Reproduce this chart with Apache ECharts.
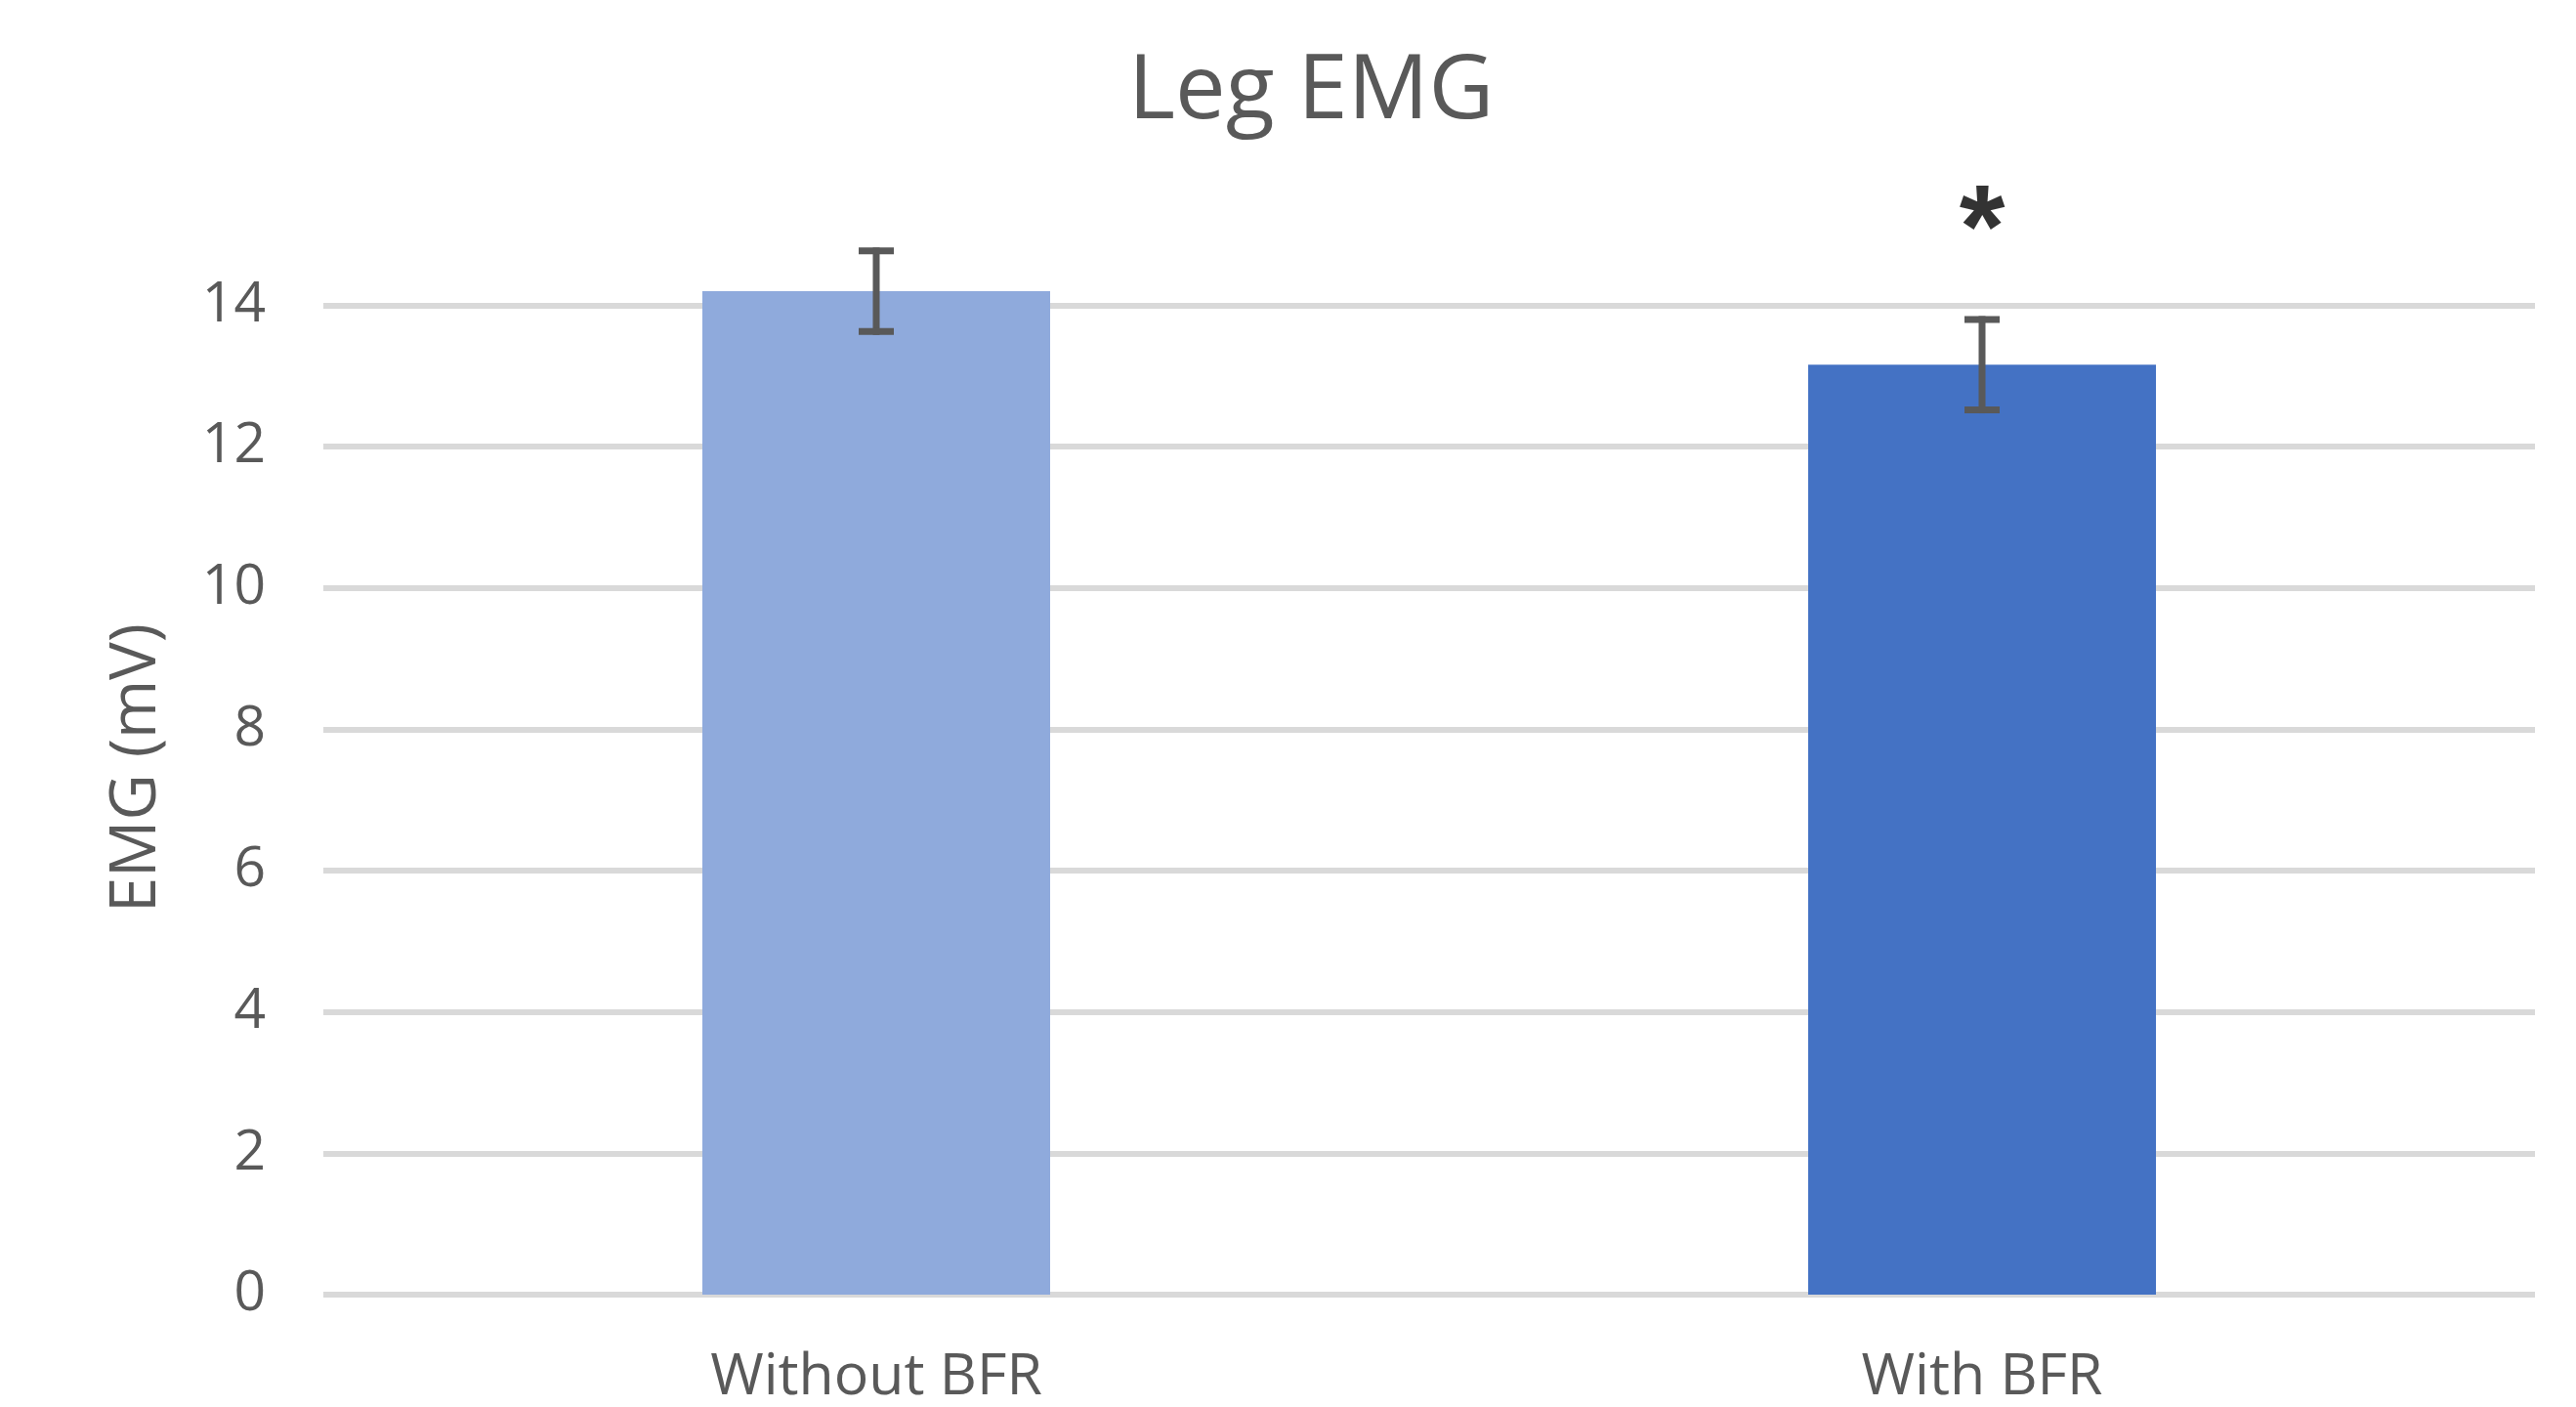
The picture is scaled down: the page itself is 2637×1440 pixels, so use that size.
<!DOCTYPE html>
<html><head><meta charset="utf-8">
<script src="https://cdn.jsdelivr.net/npm/echarts@6/dist/echarts.min.js"></script>
<style>html,body{margin:0;padding:0;background:#fff}#chart{width:2637px;height:1440px}</style>
</head><body><div id="chart"></div>
<script>
const categories = ['Without BFR', 'With BFR'];
const means = [14.2, 13.16];
const errors = [0.57, 0.64];
const barColors = ['#8FAADC', '#4472C4'];
const yTicks = [0, 2, 4, 6, 8, 10, 12, 14];
const significance = ['', '*'];
const starLevel = 15.0;

const FONT = 'Open Sans';
const chart = echarts.init(document.getElementById('chart'));
chart.setOption({
  backgroundColor: '#fff',
  animation: false,
  title: {
    text: 'Leg EMG', left: 1150, top: 44,
    textStyle: { fontFamily: FONT, fontSize: 92, fontWeight: 'normal', color: '#595959' }
  },
  grid: { left: 331, right: 42, top: 312.5, bottom: 112, containLabel: false },
  xAxis: {
    type: 'category', data: categories,
    axisLine: { show: false }, axisTick: { show: false },
    axisLabel: { fontFamily: FONT, fontSize: 59, color: '#595959', margin: 56 }
  },
  yAxis: {
    type: 'value', min: yTicks[0], max: yTicks[yTicks.length - 1], interval: yTicks[1] - yTicks[0],
    axisLine: { show: false }, axisTick: { show: false },
    axisLabel: { fontFamily: FONT, fontSize: 57, color: '#595959', margin: 59 },
    splitLine: { lineStyle: { color: '#D9D9D9', width: 6 } }
  },
  graphic: [{
    type: 'text', x: 140, y: 786, rotation: Math.PI / 2,
    style: { text: 'EMG (mV)', fontFamily: FONT, fontSize: 65, fill: '#595959', textAlign: 'center', textVerticalAlign: 'middle' }
  }],
  series: [
    {
      type: 'bar', barWidth: 356, clip: false,
      data: means.map((v, i) => ({ value: v, itemStyle: { color: barColors[i] } }))
    },
    {
      type: 'custom', clip: false, z: 10,
      data: means.map((m, i) => [i, m - errors[i], m + errors[i]]),
      encode: { x: 0, y: [1, 2] },
      renderItem(params, api) {
        const x = api.value(0);
        const lo = api.coord([x, api.value(1)]);
        const hi = api.coord([x, api.value(2)]);
        const hw = 18;
        const style = { stroke: '#595959', lineWidth: 7 };
        return { type: 'group', children: [
          { type: 'line', shape: { x1: lo[0], y1: lo[1] + 3.5, x2: hi[0], y2: hi[1] - 3.5 }, style },
          { type: 'line', shape: { x1: lo[0] - hw, y1: lo[1], x2: lo[0] + hw, y2: lo[1] }, style },
          { type: 'line', shape: { x1: hi[0] - hw, y1: hi[1], x2: hi[0] + hw, y2: hi[1] }, style }
        ] };
      }
    },
    {
      type: 'scatter', clip: false, symbolSize: 2, z: 20,
      itemStyle: { color: 'rgba(0,0,0,0)' },
      data: significance.map((s, i) => s ? { value: [i, starLevel], name: s } : null).filter(Boolean),
      label: { show: true, position: 'inside', formatter: p => p.name, fontFamily: 'Liberation Sans', fontWeight: 'bold', fontSize: 120, color: '#000000' }
    }
  ]
});
</script></body></html>
